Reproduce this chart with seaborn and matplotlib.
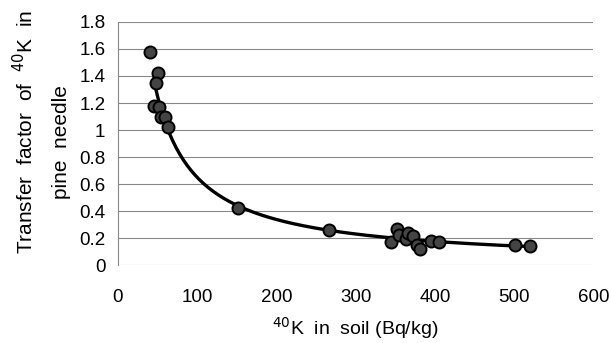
import numpy as np
import pandas as pd
import seaborn as sns
import matplotlib.pyplot as plt

# 40K in soil (Bq/kg) and transfer factor to pine needle
soil_k40 = [40, 50, 48, 45, 52, 55, 60, 63, 152, 267,
            345, 352, 355, 363, 366, 373, 378, 381, 395, 405, 501, 520]
transfer_factor = [1.58, 1.42, 1.35, 1.18, 1.17, 1.10, 1.10, 1.02, 0.42, 0.26,
                   0.17, 0.27, 0.22, 0.19, 0.235, 0.215, 0.15, 0.12, 0.18, 0.17, 0.15, 0.14]

x_ticks = [0, 100, 200, 300, 400, 500, 600]
y_ticks = [0, 0.2, 0.4, 0.6, 0.8, 1, 1.2, 1.4, 1.6, 1.8]
y_tick_labels = ["0", "0.2", "0.4", "0.6", "0.8", "1", "1.2", "1.4", "1.6", "1.8"]

df = pd.DataFrame({"soil": soil_k40, "tf": transfer_factor})

sns.set_theme(style="white")
plt.rcParams["font.family"] = ["Liberation Sans", "DejaVu Sans"]
plt.rcParams["text.color"] = "black"

fig = plt.figure(figsize=(6.11, 3.43), dpi=100)
ax = fig.add_axes([0.193, 0.227, 0.778, 0.709])

# power-law trend fitted in log-log space
b, log_a = np.polyfit(np.log(df["soil"]), np.log(df["tf"]), 1)
xs = np.linspace(45, 520, 200)
ax.plot(xs, np.exp(log_a) * xs ** b, color="black", lw=2.4, zorder=2)

sns.scatterplot(data=df, x="soil", y="tf", ax=ax, s=75, color="#444444",
                edgecolor="black", linewidth=1.4, zorder=3, legend=False)

ax.set_xlim(0, 600)
ax.set_ylim(0, 1.8)
ax.set_xticks(x_ticks)
ax.set_yticks(y_ticks, y_tick_labels)
ax.yaxis.grid(True, color="#888888", lw=0.8)
ax.tick_params(axis="both", labelsize=13.5, labelcolor="black")
ax.tick_params(axis="x", direction="in", length=4, color="#777777", pad=17)
ax.tick_params(axis="y", direction="out", length=3, color="#777777", pad=6)
for side in ["top", "right", "bottom"]:
    ax.spines[side].set_visible(False)
ax.spines["left"].set_color("#888888")
ax.spines["left"].set_linewidth(0.8)

ax.set_xlabel("")
ax.set_ylabel("")
fig.text(0.581, 0.045, "$^{40}$K  in  soil (Bq/kg)", ha="center", va="center",
         fontsize=14, color="black")
fig.text(0.040, 0.615, "Transfer  factor  of  $^{40}$K  in", rotation=90,
         ha="center", va="center", fontsize=15, color="black")
fig.text(0.100, 0.586, "pine  needle", rotation=90, ha="center", va="center",
         fontsize=15, color="black")

fig.savefig("out.png", dpi=100)
